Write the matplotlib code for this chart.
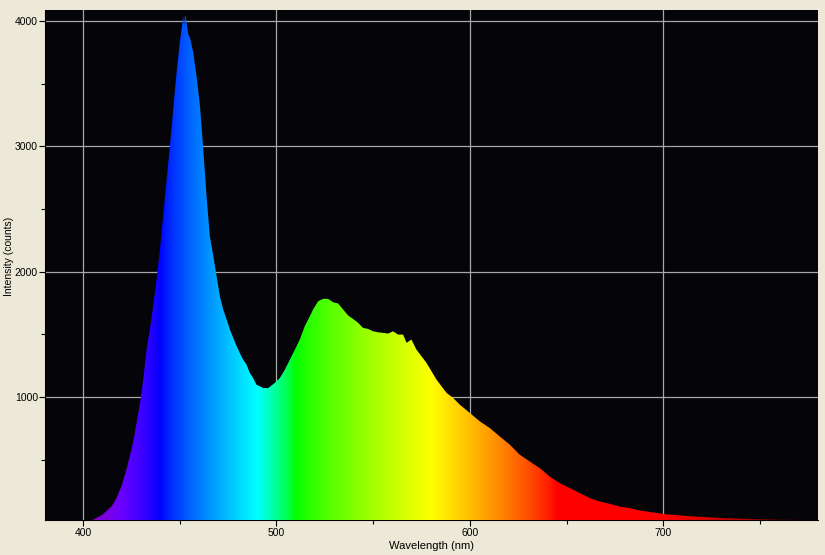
import numpy as np
import matplotlib
matplotlib.use("Agg")
import matplotlib.pyplot as plt
from matplotlib.ticker import MultipleLocator

# ---- data (wavelength nm, intensity counts) ----
wavelength = [380, 395, 400, 405, 410, 415, 417.4, 420, 422.5, 425.9, 427.6, 429.5,
              431.2, 432.9, 434.6, 436.3, 438.1, 439.8, 441.5, 443.3, 445, 446.7,
              448.4, 450.1, 451, 451.8, 452.3, 452.8, 453.2, 454.4, 455.3, 457,
              458.7, 460.5, 462.2, 463.9, 465.6, 467.4, 469.1, 470.8, 472.5, 474.3,
              476, 477.7, 479.5, 481.1, 482.8, 484.6, 486.3, 488, 489.7, 491.5,
              493.2, 495.8, 499.2, 501.8, 504.4, 507, 509.6, 512.1, 514.7, 517.3,
              519, 521.6, 524.2, 526.7, 529.3, 531.9, 534.5, 537.1, 539.6, 542.3,
              544.8, 547.4, 550, 552.6, 555.2, 557.8, 560.3, 562.9, 565.5, 567.3,
              569.8, 572.4, 575, 577.6, 580.2, 582.8, 585.4, 588, 591.4, 594.8,
              600, 605.2, 610.3, 615.5, 620.7, 625.8, 631, 636.2, 641.3, 646.5,
              651.7, 656.8, 662, 667.2, 672.4, 677.5, 682.7, 687.9, 700, 712,
              730, 745, 760, 780]
intensity = [0, 0, 8, 18, 60, 130, 194, 290, 418, 633, 780, 950,
             1140, 1378, 1538, 1724, 1938, 2177, 2444, 2737, 3003, 3297,
             3590, 3830, 3936, 4040, 3960, 4050, 4030, 3896, 3870, 3750,
             3563, 3323, 2977, 2604, 2284, 2124, 1964, 1804, 1698, 1618,
             1538, 1471, 1405, 1351, 1298, 1258, 1191, 1151, 1098, 1085,
             1071, 1071, 1112, 1151, 1218, 1298, 1378, 1458, 1565, 1644,
             1698, 1764, 1783, 1783, 1756, 1746, 1698, 1650, 1623, 1591,
             1551, 1543, 1524, 1516, 1511, 1506, 1524, 1498, 1498, 1432,
             1458, 1378, 1325, 1272, 1205, 1138, 1085, 1032, 992, 939,
             872, 805, 752, 685, 619, 539, 485, 432, 365, 312,
             272, 233, 193, 165, 147, 125, 113, 94, 66, 50,
             34, 26, 20, 18]

x_major = [400, 500, 600, 700]
y_major = [1000, 2000, 3000, 4000]
x_label = "Wavelength (nm)"
y_label = "Intensity (counts)"


def wl_to_rgb(w, gamma=0.8):
    if w < 440:
        r, g, b = -(w - 440) / 60, 0.0, 1.0
    elif w < 490:
        r, g, b = 0.0, (w - 440) / 50, 1.0
    elif w < 510:
        r, g, b = 0.0, 1.0, -(w - 510) / 20
    elif w < 580:
        r, g, b = (w - 510) / 70, 1.0, 0.0
    elif w < 645:
        r, g, b = 1.0, -(w - 645) / 65, 0.0
    else:
        r, g, b = 1.0, 0.0, 0.0
    if w < 420:
        f = 0.3 + 0.7 * (w - 380) / 40
    elif w > 700:
        f = 0.3 + 0.7 * (780 - w) / 80
    else:
        f = 1.0
    return [(c * f) ** gamma if c > 0 else 0.0 for c in (r, g, b)]


plt.rcParams['font.family'] = ['Liberation Sans', 'DejaVu Sans']
fig = plt.figure(figsize=(8.25, 5.55), dpi=100, facecolor='#ECE9D8')
ax = fig.add_axes([45 / 825, 1 - 520 / 555, 773 / 825, 510 / 555])
ax.set_facecolor('#050408')

xmin, xmax = 380.4, 780
ymin, ymax = 18, 4088
ax.set_xlim(xmin, xmax)
ax.set_ylim(ymin, ymax)

ax.grid(True, which='major', color='#a8a8a8', linewidth=0.9)
ax.set_axisbelow(True)

poly = ax.fill_between(wavelength, intensity, 0, facecolor='none', edgecolor='none', zorder=3)
grid_wl = np.linspace(xmin, xmax, 800)
cols = np.array([wl_to_rgb(w) for w in grid_wl])[None, :, :]
im = ax.imshow(cols, extent=[xmin, xmax, ymin, ymax], aspect='auto', origin='lower',
               interpolation='bilinear', zorder=3)
im.set_clip_path(poly.get_paths()[0], transform=ax.transData)

ax.set_xticks(x_major)
ax.set_yticks(y_major)
ax.xaxis.set_minor_locator(MultipleLocator(50))
ax.yaxis.set_minor_locator(MultipleLocator(500))
ax.tick_params(which='major', length=4, width=0.8, color='black', labelsize=7.5)
ax.tick_params(which='minor', length=3, width=0.8, color='black')
ax.tick_params(axis='y', which='both', right=False, pad=1)
ax.tick_params(axis='x', which='both', pad=2)

for s in ['top', 'right']:
    ax.spines[s].set_visible(False)
ax.spines['bottom'].set_color('black')
ax.spines['left'].set_color('black')

ax.set_xlabel(x_label, fontsize=8, labelpad=2)
ax.set_ylabel(y_label, fontsize=7.5)
ax.yaxis.label.set_va('center')
ax.yaxis.label.set_ha('center')
ax.yaxis.set_label_coords((9.5 - 45) / 773, (520 - 256) / 510)

fig.savefig('out.png', dpi=100, facecolor=fig.get_facecolor())
